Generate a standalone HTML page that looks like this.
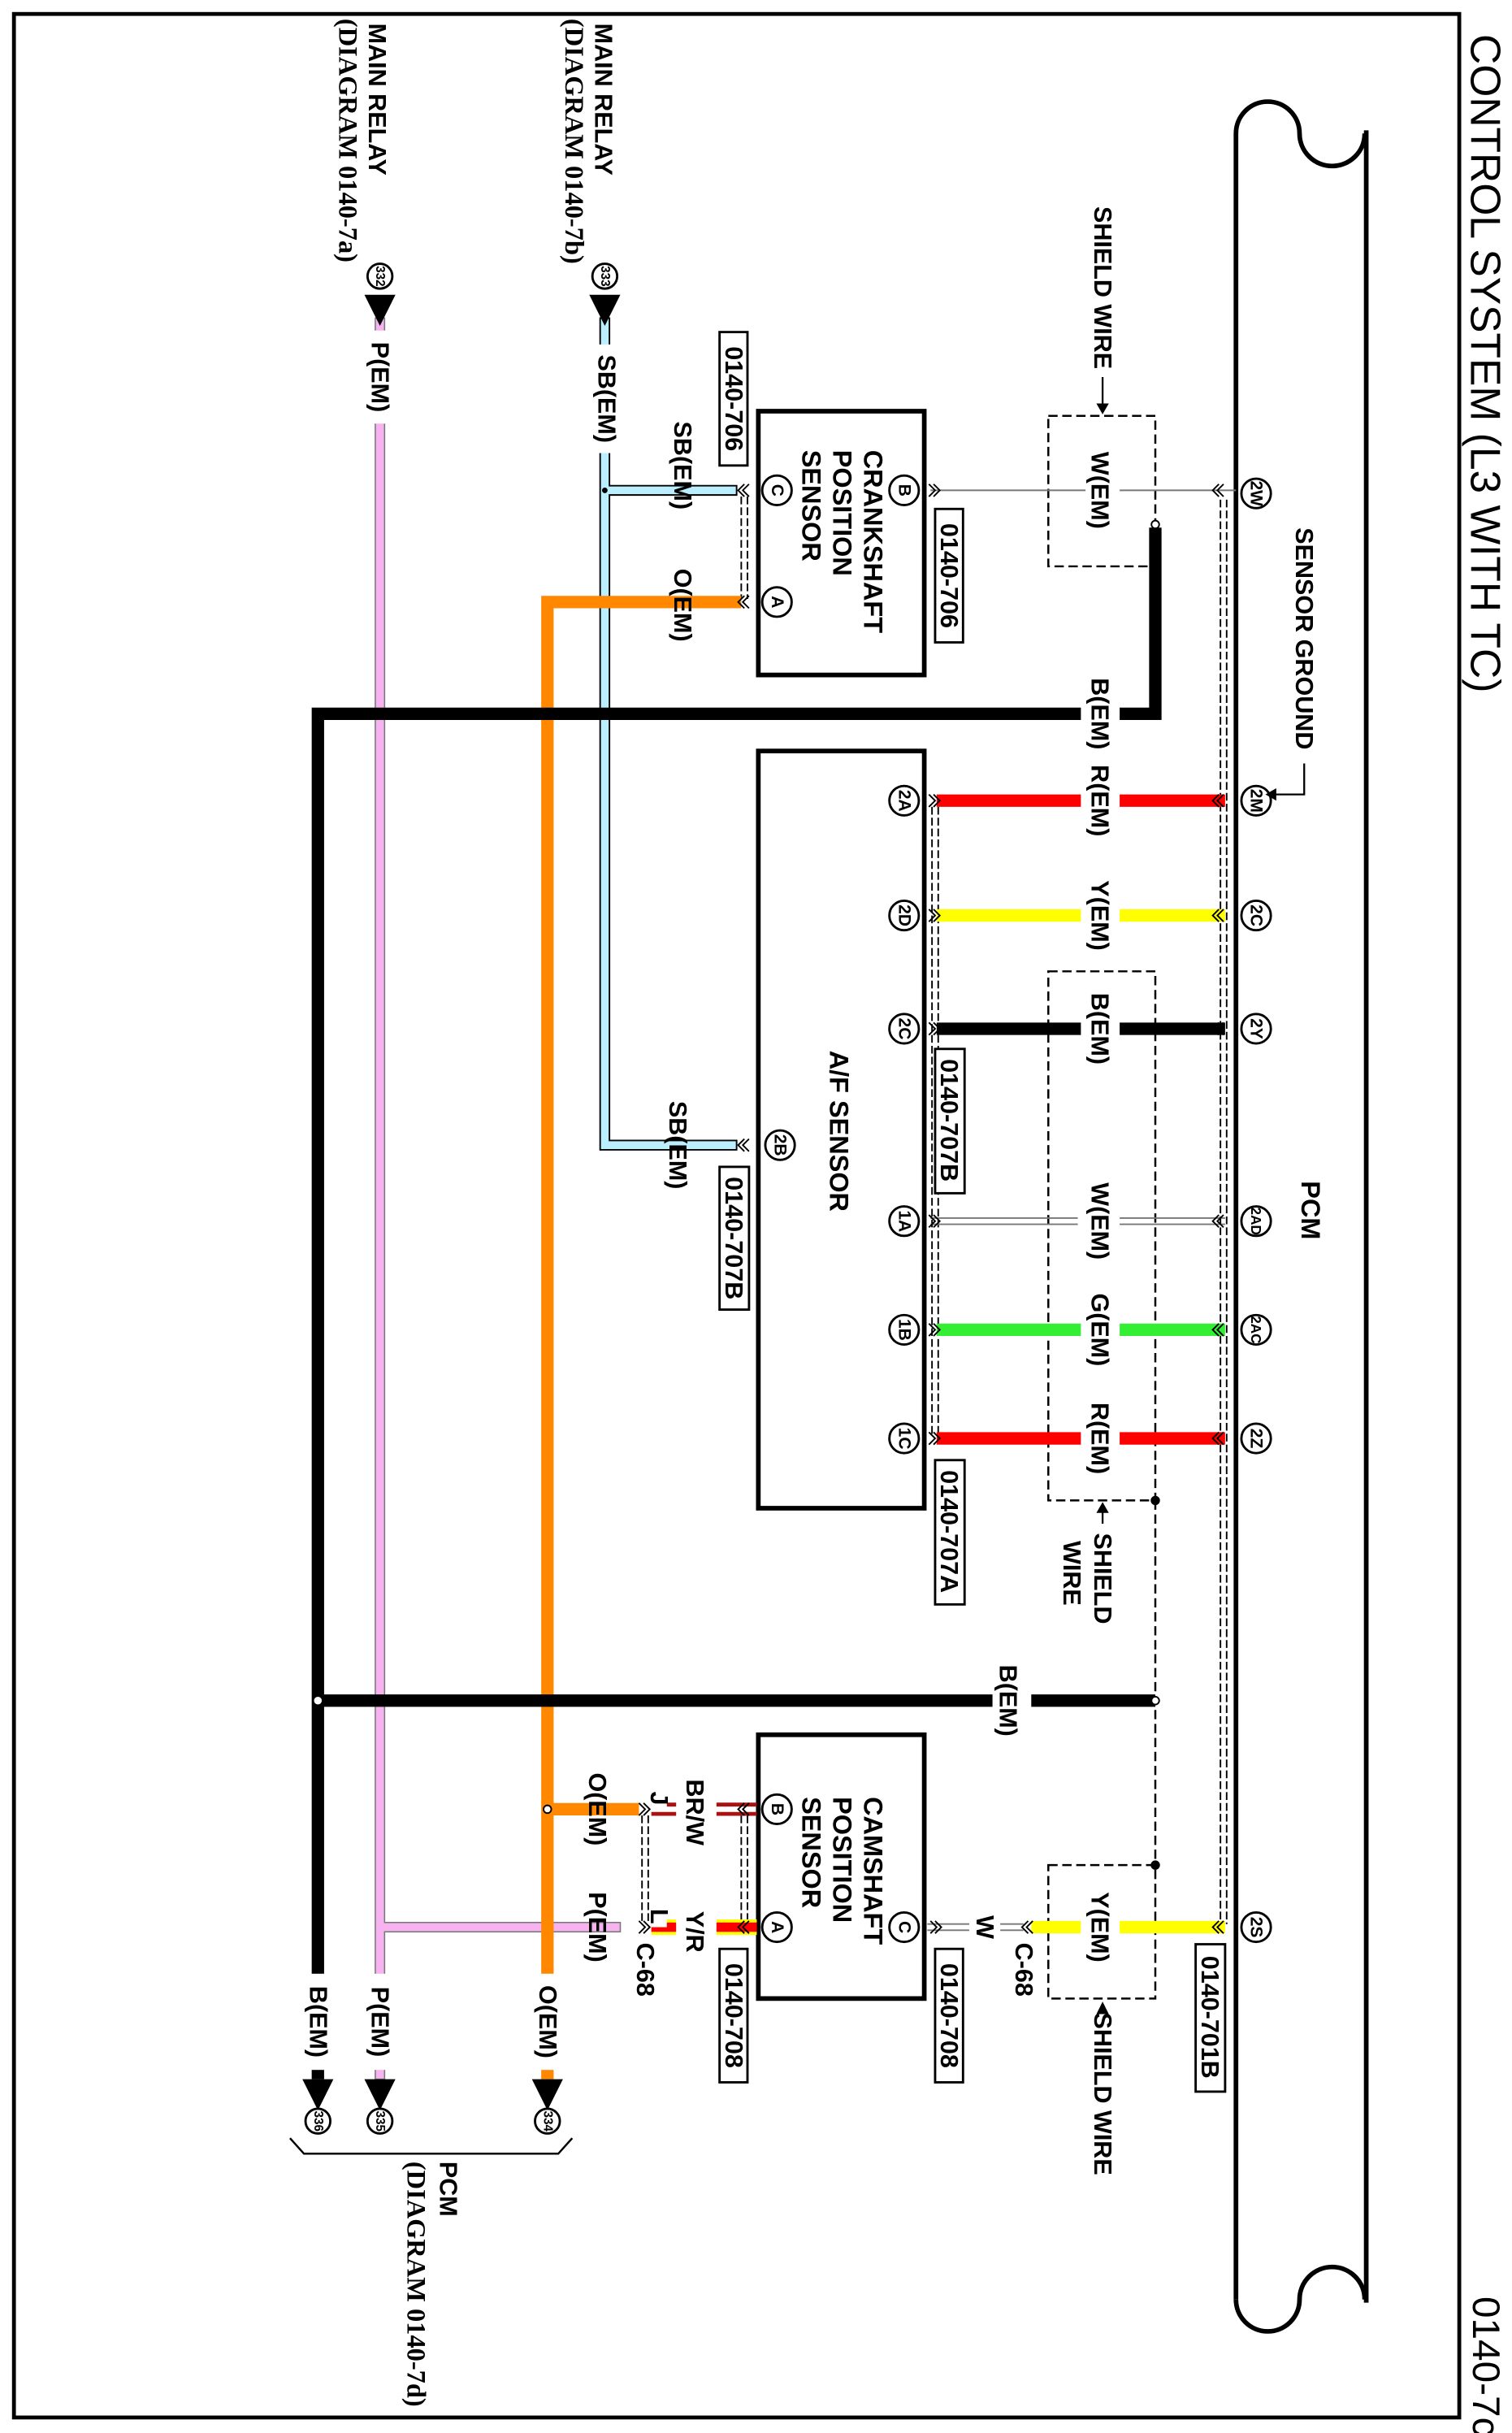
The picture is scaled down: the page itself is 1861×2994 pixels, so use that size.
<!DOCTYPE html>
<html><head><meta charset="utf-8"><style>
html,body{margin:0;padding:0;background:#fff}
svg{display:block}
text{font-family:"Liberation Sans",sans-serif;font-weight:bold;fill:#000}
.s{font-family:"Liberation Serif",serif;}
</style></head><body>
<svg width="1861" height="2994" viewBox="0 0 975 1568" preserveAspectRatio="none" xmlns="http://www.w3.org/2000/svg">
<rect x="0" y="0" width="975" height="1568" fill="#fff"/>
<rect x="9" y="9" width="932" height="1549" fill="none" stroke="#000" stroke-width="2.5"/>
<text transform="translate(958,22) rotate(90)" font-size="27" dominant-baseline="central" style="font-weight:normal">CONTROL SYSTEM (L3 WITH TC)</text>
<text transform="translate(958,1480) rotate(90)" font-size="25" dominant-baseline="central" style="font-weight:normal">0140-7c</text>

<!-- PCM shape -->
<path d="M797,1482 L797,86 A20.5,20.5 0 0 1 838,86 A21,21 0 0 0 880,86" fill="none" stroke="#000" stroke-width="3"/>
<path d="M797,1482 A20.5,20.5 0 0 0 838,1482 A21,21 0 0 1 880,1482" fill="none" stroke="#000" stroke-width="3"/>
<line x1="881" y1="84" x2="881" y2="1484" stroke="#000" stroke-width="3"/>
<text transform="translate(845,780) rotate(90)" font-size="17" text-anchor="middle" dominant-baseline="central">PCM</text>

<g stroke="#000" stroke-width="1" stroke-dasharray="5,2" fill="none">
<line x1="787" y1="322" x2="787" y2="1240"/><line x1="791" y1="322" x2="791" y2="1240"/>
<line x1="601" y1="520" x2="601" y2="925"/><line x1="605" y1="520" x2="605" y2="925"/>
<line x1="478" y1="320" x2="478" y2="386"/><line x1="482" y1="320" x2="482" y2="386"/>
<line x1="478" y1="1170" x2="478" y2="1240"/><line x1="482" y1="1170" x2="482" y2="1240"/>
<line x1="414" y1="1170" x2="414" y2="1240"/><line x1="418" y1="1170" x2="418" y2="1240"/>
</g>

<g stroke="#000" stroke-width="1.3" stroke-dasharray="6,3" fill="none">
<rect x="676" y="268" width="69" height="97"/>
<rect x="676" y="626" width="69" height="341"/>
<rect x="676" y="1202" width="69" height="86"/>
<line x1="745" y1="967" x2="745" y2="1202"/>
</g>

<g fill="none" stroke="#000" stroke-width="3">
<rect x="489" y="265" width="107" height="170"/>
<rect x="489" y="484" width="107" height="488"/>
<rect x="489" y="1118" width="107" height="170"/>
</g>

<g stroke="#777" stroke-width="1" fill="none">
<line x1="600" y1="316" x2="700" y2="316"/><line x1="722" y1="316" x2="797" y2="316"/>
<line x1="600" y1="785" x2="695" y2="785"/><line x1="600" y1="789" x2="695" y2="789"/>
<line x1="722" y1="785" x2="790" y2="785"/><line x1="722" y1="789" x2="790" y2="789"/>
<line x1="598" y1="1240" x2="625" y2="1240"/><line x1="598" y1="1244" x2="625" y2="1244"/>
<line x1="645" y1="1240" x2="660" y2="1240"/><line x1="645" y1="1244" x2="660" y2="1244"/>
</g>

<g stroke-width="8" fill="none">
<line x1="604" y1="516" x2="697" y2="516" stroke="#f00"/><line x1="722" y1="516" x2="790" y2="516" stroke="#f00"/>
<line x1="604" y1="590" x2="697" y2="590" stroke="#ff0"/><line x1="722" y1="590" x2="790" y2="590" stroke="#ff0"/>
<line x1="604" y1="663" x2="697" y2="663" stroke="#000"/><line x1="722" y1="663" x2="790" y2="663" stroke="#000"/>
<line x1="604" y1="857" x2="697" y2="857" stroke="#3e3"/><line x1="722" y1="857" x2="790" y2="857" stroke="#3e3"/>
<line x1="604" y1="927" x2="697" y2="927" stroke="#f00"/><line x1="722" y1="927" x2="790" y2="927" stroke="#f00"/>
<line x1="665" y1="1242" x2="697" y2="1242" stroke="#ff0"/><line x1="722" y1="1242" x2="790" y2="1242" stroke="#ff0"/>
</g>

<path d="M387,205 L393,205 L393,313 L475,313 L475,319 L393,319 L393,735 L475,735 L475,741 L387,741 Z" fill="#bef" stroke="#000" stroke-width="1"/>
<circle cx="390" cy="316" r="1.8" fill="#000"/>
<path d="M242,205 L248,205 L248,1239 L400,1239 L400,1245 L248,1245 L248,1340 L242,1340 Z" fill="#f6b3f0" stroke="#777" stroke-width="0.8"/>
<g stroke="#f80" stroke-width="8" fill="none">
<path d="M353,1340 L353,388 L478,388"/>
<line x1="353" y1="1166" x2="412" y2="1166"/>
</g>
<circle cx="353" cy="1166" r="2.5" fill="#fff" stroke="#000" stroke-width="1"/>
<g stroke="#000" stroke-width="8" fill="none">
<path d="M205,1340 L205,460 L697,460"/>
<path d="M722,460 L745,460 L745,340"/>
<line x1="205" y1="1096" x2="640" y2="1096"/><line x1="665" y1="1096" x2="745" y2="1096"/>
</g>
<circle cx="205" cy="1096" r="3" fill="#fff" stroke="#000" stroke-width="1"/>
<circle cx="745" cy="1096" r="2.5" fill="#fff" stroke="#000" stroke-width="1"/>
<circle cx="745" cy="338" r="2.5" fill="#fff" stroke="#000" stroke-width="1"/>
<circle cx="745" cy="967" r="3" fill="#000"/>
<circle cx="745" cy="1202" r="3" fill="#000"/>

<g stroke-width="2.5" fill="none">
<line x1="420" y1="1163" x2="488" y2="1163" stroke="#a11"/><line x1="420" y1="1169" x2="488" y2="1169" stroke="#a11"/>
</g>
<rect x="420" y="1237" width="68" height="10" fill="#ff0"/>
<rect x="420" y="1239" width="68" height="6" fill="#f00"/>
<!-- label gaps on wires -->
<g fill="#fff">
<rect x="436" y="1140" width="26" height="56"/>
<rect x="436" y="1224" width="26" height="42"/>
<rect x="420" y="1152" width="10" height="14"/>
<rect x="420" y="1228" width="10" height="14"/>
<rect x="380" y="222" width="22" height="70"/>
<rect x="234" y="213" width="22" height="60"/>
<rect x="234" y="1272" width="22" height="62"/>
<rect x="194" y="1272" width="22" height="62"/>
<rect x="342" y="1272" width="22" height="62"/>
</g>

<g fill="#000">
<polygon points="195,1340 215,1340 205,1360"/>
<polygon points="235,1340 255,1340 245,1360"/>
<polygon points="343,1340 363,1340 353,1360"/>
<polygon points="380,190 400,190 390,210"/>
<polygon points="235,190 255,190 245,210"/>
</g>
<g fill="#fff" stroke="#000" stroke-width="1.5">
<circle cx="205" cy="1367" r="8"/><circle cx="245" cy="1367" r="8"/><circle cx="353" cy="1367" r="8"/>
<circle cx="390" cy="178" r="8"/><circle cx="245" cy="178" r="8"/>
</g>
<g font-size="8">
<text transform="translate(205,1367) rotate(90)" text-anchor="middle" dominant-baseline="central">336</text>
<text transform="translate(245,1367) rotate(90)" text-anchor="middle" dominant-baseline="central">335</text>
<text transform="translate(353,1367) rotate(90)" text-anchor="middle" dominant-baseline="central">334</text>
<text transform="translate(390,178) rotate(90)" text-anchor="middle" dominant-baseline="central">333</text>
<text transform="translate(245,178) rotate(90)" text-anchor="middle" dominant-baseline="central">332</text>
</g>
<path d="M187,1378 L196,1388 L360,1388 L369,1378" fill="none" stroke="#000" stroke-width="1.3"/>

<g fill="#fff" stroke="#000" stroke-width="1.5">
<circle cx="810" cy="318" r="9.5"/><circle cx="810" cy="516" r="9.5"/><circle cx="810" cy="590" r="9.5"/>
<circle cx="810" cy="663" r="9.5"/><circle cx="810" cy="787" r="9.5"/><circle cx="810" cy="857" r="9.5"/>
<circle cx="810" cy="927" r="9.5"/><circle cx="810" cy="1242" r="9.5"/>
<circle cx="583" cy="516" r="9.5"/><circle cx="583" cy="590" r="9.5"/><circle cx="583" cy="663" r="9.5"/>
<circle cx="583" cy="787" r="9.5"/><circle cx="583" cy="857" r="9.5"/><circle cx="583" cy="927" r="9.5"/>
<circle cx="503" cy="738" r="9.5"/>
<circle cx="583" cy="316" r="9.5"/><circle cx="501" cy="316" r="9.5"/><circle cx="501" cy="388" r="9.5"/>
<circle cx="501" cy="1166" r="9.5"/><circle cx="501" cy="1242" r="9.5"/><circle cx="583" cy="1242" r="9.5"/>
</g>
<g font-size="11" text-anchor="middle">
<text transform="translate(810,318) rotate(90)" dominant-baseline="central">2W</text>
<text transform="translate(810,516) rotate(90)" dominant-baseline="central">2M</text>
<text transform="translate(810,590) rotate(90)" dominant-baseline="central">2C</text>
<text transform="translate(810,663) rotate(90)" dominant-baseline="central">2Y</text>
<text transform="translate(810,787) rotate(90)" dominant-baseline="central" font-size="9">2AD</text>
<text transform="translate(810,857) rotate(90)" dominant-baseline="central" font-size="9">2AC</text>
<text transform="translate(810,927) rotate(90)" dominant-baseline="central">2Z</text>
<text transform="translate(810,1242) rotate(90)" dominant-baseline="central">2S</text>
<text transform="translate(583,516) rotate(90)" dominant-baseline="central">2A</text>
<text transform="translate(583,590) rotate(90)" dominant-baseline="central">2D</text>
<text transform="translate(583,663) rotate(90)" dominant-baseline="central">2C</text>
<text transform="translate(583,787) rotate(90)" dominant-baseline="central">1A</text>
<text transform="translate(583,857) rotate(90)" dominant-baseline="central">1B</text>
<text transform="translate(583,927) rotate(90)" dominant-baseline="central">1C</text>
<text transform="translate(503,738) rotate(90)" dominant-baseline="central">2B</text>
<text transform="translate(583,316) rotate(90)" dominant-baseline="central">B</text>
<text transform="translate(501,316) rotate(90)" dominant-baseline="central">C</text>
<text transform="translate(501,388) rotate(90)" dominant-baseline="central">A</text>
<text transform="translate(501,1166) rotate(90)" dominant-baseline="central">B</text>
<text transform="translate(501,1242) rotate(90)" dominant-baseline="central">A</text>
<text transform="translate(583,1242) rotate(90)" dominant-baseline="central">C</text>
</g>

<g fill="none" stroke="#000" stroke-width="1">
<path d="M786,312 l-4,4 l4,4 M789,312 l-4,4 l4,4"/>
<path d="M786,512 l-4,4 l4,4 M789,512 l-4,4 l4,4"/><path d="M786,586 l-4,4 l4,4 M789,586 l-4,4 l4,4"/>
<path d="M786,659 l-4,4 l4,4 M789,659 l-4,4 l4,4"/><path d="M786,783 l-4,4 l4,4 M789,783 l-4,4 l4,4"/>
<path d="M786,853 l-4,4 l4,4 M789,853 l-4,4 l4,4"/><path d="M786,923 l-4,4 l4,4 M789,923 l-4,4 l4,4"/>
<path d="M786,1238 l-4,4 l4,4 M789,1238 l-4,4 l4,4"/>
<path d="M599,512 l4,4 l-4,4 M602,512 l4,4 l-4,4"/><path d="M599,586 l4,4 l-4,4 M602,586 l4,4 l-4,4"/>
<path d="M599,659 l4,4 l-4,4 M602,659 l4,4 l-4,4"/><path d="M599,783 l4,4 l-4,4 M602,783 l4,4 l-4,4"/>
<path d="M599,853 l4,4 l-4,4 M602,853 l4,4 l-4,4"/><path d="M599,923 l4,4 l-4,4 M602,923 l4,4 l-4,4"/>
<path d="M599,312 l4,4 l-4,4 M602,312 l4,4 l-4,4"/>
<path d="M480,312 l-4,4 l4,4 M483,312 l-4,4 l4,4"/><path d="M480,384 l-4,4 l4,4 M483,384 l-4,4 l4,4"/>
<path d="M480,734 l-4,4 l4,4 M483,734 l-4,4 l4,4"/>
<path d="M480,1162 l-4,4 l4,4 M483,1162 l-4,4 l4,4"/><path d="M480,1238 l-4,4 l4,4 M483,1238 l-4,4 l4,4"/>
<path d="M412,1162 l4,4 l-4,4 M415,1162 l4,4 l-4,4"/><path d="M412,1238 l4,4 l-4,4 M415,1238 l4,4 l-4,4"/>
<path d="M600,1238 l4,4 l-4,4 M603,1238 l4,4 l-4,4"/>
<path d="M663,1238 l-4,4 l4,4 M666,1238 l-4,4 l4,4"/>
</g>

<g fill="#fff" stroke="#000" stroke-width="1.5">
<rect x="464" y="214" width="18" height="86"/><rect x="603" y="328" width="18" height="86"/>
<rect x="603" y="676" width="19" height="93"/><rect x="464" y="752" width="19" height="92"/>
<rect x="603" y="941" width="19" height="93"/><rect x="464" y="1256" width="18" height="86"/>
<rect x="603" y="1256" width="18" height="86"/><rect x="771" y="1253" width="19" height="95"/>
</g>
<g font-size="16" text-anchor="middle" style="font-weight:normal">
<text transform="translate(473,257) rotate(90)" dominant-baseline="central">0140-706</text>
<text transform="translate(612,371) rotate(90)" dominant-baseline="central">0140-706</text>
<text transform="translate(612,722) rotate(90)" dominant-baseline="central">0140-707B</text>
<text transform="translate(473,798) rotate(90)" dominant-baseline="central">0140-707B</text>
<text transform="translate(612,987) rotate(90)" dominant-baseline="central">0140-707A</text>
<text transform="translate(473,1299) rotate(90)" dominant-baseline="central">0140-708</text>
<text transform="translate(612,1299) rotate(90)" dominant-baseline="central">0140-708</text>
<text transform="translate(780,1300) rotate(90)" dominant-baseline="central">0140-701B</text>
</g>

<g font-size="16" text-anchor="middle">
<text transform="translate(709,316) rotate(90)" dominant-baseline="central">W(EM)</text>
<text transform="translate(709,460) rotate(90)" dominant-baseline="central">B(EM)</text>
<text transform="translate(709,516) rotate(90)" dominant-baseline="central">R(EM)</text>
<text transform="translate(709,590) rotate(90)" dominant-baseline="central">Y(EM)</text>
<text transform="translate(709,663) rotate(90)" dominant-baseline="central">B(EM)</text>
<text transform="translate(709,787) rotate(90)" dominant-baseline="central">W(EM)</text>
<text transform="translate(709,857) rotate(90)" dominant-baseline="central">G(EM)</text>
<text transform="translate(709,927) rotate(90)" dominant-baseline="central">R(EM)</text>
<text transform="translate(709,1242) rotate(90)" dominant-baseline="central">Y(EM)</text>
<text transform="translate(650,1096) rotate(90)" dominant-baseline="central">B(EM)</text>
<text transform="translate(391,257) rotate(90)" dominant-baseline="central">SB(EM)</text>
<text transform="translate(440,300) rotate(90)" dominant-baseline="central">SB(EM)</text>
<text transform="translate(437,738) rotate(90)" dominant-baseline="central">SB(EM)</text>
<text transform="translate(440,390) rotate(90)" dominant-baseline="central">O(EM)</text>
<text transform="translate(385,1166) rotate(90)" dominant-baseline="central">O(EM)</text>
<text transform="translate(353,1303) rotate(90)" dominant-baseline="central">O(EM)</text>
<text transform="translate(245,243) rotate(90)" dominant-baseline="central">P(EM)</text>
<text transform="translate(385,1242) rotate(90)" dominant-baseline="central">P(EM)</text>
<text transform="translate(245,1303) rotate(90)" dominant-baseline="central">P(EM)</text>
<text transform="translate(205,1303) rotate(90)" dominant-baseline="central">B(EM)</text>
<text transform="translate(635,1242) rotate(90)" dominant-baseline="central">W</text>
<text transform="translate(448,1168) rotate(90)" dominant-baseline="central">BR/W</text>
<text transform="translate(448,1245) rotate(90)" dominant-baseline="central">Y/R</text>
<text transform="translate(425,1159) rotate(90)" dominant-baseline="central">J</text>
<text transform="translate(425,1235) rotate(90)" dominant-baseline="central">L</text>
</g>
<g font-size="16">
<text transform="translate(416,1252) rotate(90)" dominant-baseline="central">C-68</text>
<text transform="translate(660,1252) rotate(90)" dominant-baseline="central">C-68</text>
</g>

<g font-size="17">
<text transform="translate(563,290) rotate(90)" dominant-baseline="central">CRANKSHAFT</text>
<text transform="translate(543,290) rotate(90)" dominant-baseline="central">POSITION</text>
<text transform="translate(523,290) rotate(90)" dominant-baseline="central">SENSOR</text>
<text transform="translate(563,1158) rotate(90)" dominant-baseline="central">CAMSHAFT</text>
<text transform="translate(543,1158) rotate(90)" dominant-baseline="central">POSITION</text>
<text transform="translate(523,1158) rotate(90)" dominant-baseline="central">SENSOR</text>
<text transform="translate(541,677) rotate(90)" dominant-baseline="central">A/F SENSOR</text>
</g>

<g font-size="16">
<text transform="translate(711,133) rotate(90)" dominant-baseline="central">SHIELD WIRE</text>
<text transform="translate(841,340) rotate(90)" dominant-baseline="central">SENSOR GROUND</text>
<text transform="translate(711,988) rotate(90)" dominant-baseline="central">SHIELD</text>
<text transform="translate(691,993) rotate(90)" dominant-baseline="central">WIRE</text>
<text transform="translate(711,1297) rotate(90)" dominant-baseline="central">SHIELD WIRE</text>
<text transform="translate(389,15) rotate(90)" dominant-baseline="central">MAIN RELAY</text>
<text transform="translate(243,15) rotate(90)" dominant-baseline="central">MAIN RELAY</text>
<text transform="translate(289,1393) rotate(90)" dominant-baseline="central">PCM</text>
</g>
<g font-size="17">
<text class="s" transform="translate(370,12) rotate(90)" dominant-baseline="central">(DIAGRAM 0140-7b)</text>
<text class="s" transform="translate(224,12) rotate(90)" dominant-baseline="central">(DIAGRAM 0140-7a)</text>
<text class="s" transform="translate(268,1393) rotate(90)" dominant-baseline="central">(DIAGRAM 0140-7d)</text>
</g>
<g stroke="#000" stroke-width="1.2" fill="none">
<line x1="711" y1="243" x2="711" y2="262"/>
<path d="M841,492 L841,512 L820,512"/>
<line x1="711" y1="982" x2="711" y2="972"/>
</g>
<g fill="#000">
<polygon points="707,260 715,260 711,267"/>
<polygon points="823,508 823,516 816,512"/>
<polygon points="707,975 715,975 711,968"/>
<polygon points="707,1298 715,1298 711,1290"/>
</g>
</svg>
</body></html>
